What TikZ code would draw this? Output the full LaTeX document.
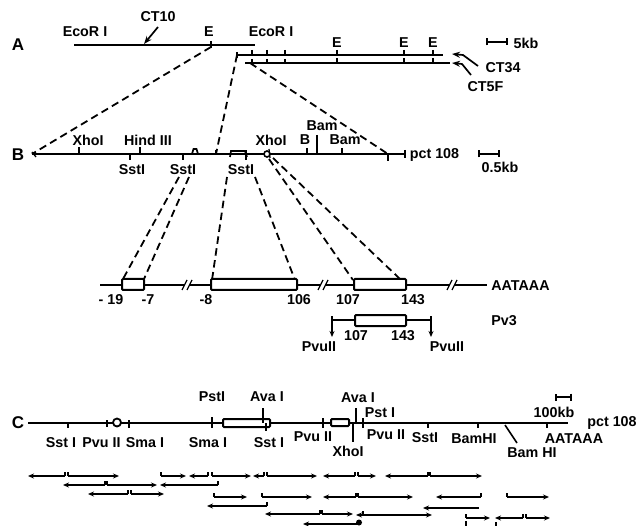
\documentclass[tikz,border=0pt]{standalone}
\usepackage{fontspec}
\setmainfont{Liberation Sans}
\usetikzlibrary{arrows.meta}
\tikzset{
  x=1pt,y=-1pt,
  lbl/.style={font=\bfseries\fontsize{14.3}{15}\selectfont,inner sep=0pt},
  bigl/.style={font=\bfseries\fontsize{17}{17}\selectfont,inner sep=0pt},
  ln/.style={line width=1.9pt},
  tk/.style={line width=1.3pt},
  dsh/.style={line width=1.8pt,dash pattern=on 7.5pt off 4.5pt},
  exon/.style={draw,line width=2pt,fill=white,rounded corners=1pt},
  scalebar/.style={line width=1.6pt,{Bar[width=7pt]}-{Bar[width=7pt]}},
  poi/.style={line width=1.7pt,-{Stealth[length=8pt,width=6pt]}},
  frag/.style={line width=1.5pt,-{Stealth[length=6pt,width=5pt]}},
  fragt/.style={line width=1.1pt}
}
\begin{document}
\begin{tikzpicture}
\useasboundingbox (0,0) rectangle (639,526);
\fill[white] (0,0) rectangle (639,526);
% Panel A
\node[bigl] (lA) at (18,45) {A};
\node[lbl] (a1) at (85,32) {EcoR I};
\node[lbl] (a2) at (158,17) {CT10};
\node[lbl] (a3) at (209,32) {E};
\node[lbl] (a4) at (271,32) {EcoR I};
\node[lbl] (a5) at (337,43) {E};
\node[lbl] (a6) at (404,43) {E};
\node[lbl] (a7) at (433,43) {E};
\draw[ln] (74,45) -- (255,45);
\draw[poi] (158,27) -- (144,44);
\draw[tk] (211,41)--(211,48);
\draw[ln] (237,55) -- (443,55);
\draw[ln] (245,63) -- (450,63);
\draw[tk] (237,52)--(237,58);
\foreach \x in {252,267,285} {\draw[tk] (\x,50)--(\x,55); \draw[tk] (\x,59)--(\x,63);}
\foreach \x in {337,404,433} {\draw[tk] (\x,50)--(\x,55); \draw[tk] (\x,58)--(\x,63);}
\draw[poi] (478,66) -- (463,55) -- (452,54);
\draw[poi] (471,75) -- (462,64) -- (452,63);
\node[lbl] (a8) at (503,68) {CT34};
\node[lbl] (a9) at (485.5,87) {CT5F};
\draw[scalebar] (486,42) -- (508,42);
\node[lbl] (a10) at (526,43) {5kb};
% Dashes A-B
\draw[dsh] (211,47) -- (32,154);
\draw[dsh] (237,55) -- (216,154);
\draw[dsh] (250,63) -- (388,154);
% Panel B
\node[bigl] (lB) at (18,155) {B};
\draw[ln] (32,154) -- (405,154);
\draw[tk] (405,150)--(405,158);
\draw[tk] (32,152)--(36,157);
\node[lbl] (b1) at (434.5,155) {pct 108};
\node[lbl] (b2) at (88,140) {XhoI};
\node[lbl] (b3) at (148,140) {Hind III};
\node[lbl] (b4) at (271,140) {XhoI};
\node[lbl] (b5) at (305,140) {B};
\node[lbl] (b6) at (322,126) {Bam};
\node[lbl] (b7) at (345,140) {Bam};
\foreach \x/\a/\b in {79/147/154,140/147/154,130/154/160,183/154/160,307/148/154,342/148/154,216/150/154,388/154/161} {\draw[tk] (\x,\a)--(\x,\b);}
\draw[line width=1.6pt] (317,135)--(317,154);
\node[lbl] (b8) at (132,170) {SstI};
\node[lbl] (b9) at (183,170) {SstI};
\node[lbl] (b10) at (241,170) {SstI};
\draw[tk] (246,160)--(246,150);
\draw[line width=1.7pt] (230,157)--(231,151)--(245,151)--(247,157);
\draw[line width=1.7pt] (192,154)--(193.5,149)--(196.5,149)--(198,154);
\draw[line width=1.6pt,fill=white] (267,154) circle (3);
\draw[tk] (269,149)--(270,158);
\draw[scalebar] (478,154) -- (500,154);
\node[lbl] (b11) at (500,167) {0.5kb};
% dashes B-lower
\draw[dsh] (179,177) -- (123,279);
\draw[dsh] (189,177) -- (144,279);
\draw[dsh] (227,177) -- (212,280);
\draw[dsh] (255,177) -- (295,280);
\draw[dsh] (269,159) -- (353,280);
\draw[dsh] (273,158) -- (400,279);
% gene
\draw[ln] (100,285) -- (184,285);
\draw[ln] (190,285) -- (321,285);
\draw[ln] (326,285) -- (450,285);
\draw[ln] (455,285) -- (487,285);
\draw[tk] (182,290)--(187,280) (187,290)--(192,280);
\draw[tk] (318,290)--(323,280) (323,290)--(328,280);
\draw[tk] (447,290)--(452,280) (452,290)--(457,280);
\draw[exon] (122,279) rectangle (144,290);
\draw[exon] (211,279) rectangle (297,290);
\draw[exon] (354,279) rectangle (406,290);
\node[lbl] (g1) at (111,300) {- 19};
\node[lbl] (g2) at (148,300) {-7};
\node[lbl] (g3) at (206,300) {-8};
\node[lbl] (g4) at (299,300) {106};
\node[lbl] (g5) at (348,300) {107};
\node[lbl] (g6) at (413,300) {143};
\node[lbl] (g7) at (520.5,286) {AATAAA};
% Pv3
\draw[ln] (332,320) -- (432,320);
\draw[frag] (332,316) -- (332,337);
\draw[frag] (431,316) -- (431,337);
\draw[exon] (355,315) rectangle (406,326);
\node[lbl] (p1) at (356,336) {107};
\node[lbl] (p2) at (403,336) {143};
\node[lbl] (p3) at (319,347) {PvuII};
\node[lbl] (p4) at (447,347) {PvuII};
\node[lbl] (p5) at (504,321) {Pv3};
% Panel C
\node[bigl] (lC) at (18,423) {C};
\draw[ln] (28,423) -- (568,423);
\draw[line width=1.8pt,fill=white] (117,422.5) circle (4);
\draw[exon] (223,419) rectangle (270,427);
\draw[exon] (331,419) rectangle (349,426);
\foreach \x/\a/\b in {68/423/428,107/420/427,129/420/428,212/417/428,266/423/431,323/418/428,363/418/428,428/423/428,478/423/428,547/423/428} {\draw[tk] (\x,\a)--(\x,\b);}
\draw[line width=1.6pt] (263,408)--(263,423);
\draw[line width=1.6pt] (356,408)--(356,423);
\draw[line width=1.6pt] (353,423)--(353,442);
\draw[line width=1.6pt] (505,425)--(517,443);
\draw[scalebar] (555,397) -- (572,397);
\node[lbl] (c1) at (212,397) {PstI};
\node[lbl] (c2) at (267,397) {Ava I};
\node[lbl] (c3) at (358,398) {Ava I};
\node[lbl] (c4) at (380,413) {Pst I};
\node[lbl] (c5) at (554,412) {100kb};
\node[lbl] (c6) at (612,423) {pct 108};
\node[lbl] (c7) at (61,443) {Sst I};
\node[lbl] (c8) at (101.5,443) {Pvu II};
\node[lbl] (c9) at (145,443) {Sma I};
\node[lbl] (c10) at (208,443) {Sma I};
\node[lbl] (c11) at (269,443) {Sst I};
\node[lbl] (c12) at (313,437) {Pvu II};
\node[lbl] (c13) at (348,451) {XhoI};
\node[lbl] (c14) at (386,435) {Pvu II};
\node[lbl] (c15) at (425,438) {SstI};
\node[lbl] (c16) at (474,439) {BamHI};
\node[lbl] (c17) at (532,453) {Bam HI};
\node[lbl] (c18) at (574,439) {AATAAA};
% fragment arrows: tick end, arrow end, height
\foreach \s/\e/\y in {
 65/28/476, 68/119/476, 161/186/476, 208/189/476, 212/251/476, 264/253/476, 267/317/476,
 355/323/476, 358/376/476, 428/385/476, 430/482/476,
 105/63/485, 107/157/485, 218/160/485,
 128/88/494, 131/164/494,
 214/247/497, 262/312/497, 356/323/497, 358/413/497, 481/436/497, 507/549/497,
 267/207/506,
 320/265/514, 322/353/514, 363/356/515, 363/432/515,
 466/490/518, 523/495/518, 526/550/518}
{ \pgfmathsetmacro{\yt}{\y-4}
  \draw[fragt] (\s,\yt) -- (\s,\y);
  \draw[frag] (\s,\y) -- (\e,\y); }
\draw[line width=1.9pt,-{Stealth[length=6pt,width=5pt]}] (479,508)--(423,508);
\draw[line width=2.4pt,-{Stealth[length=6pt,width=5pt]}] (359,524)--(303,524);
\fill (359,522.5) circle (3);
\draw[tk] (466,521)--(466,526);
\draw[tk] (496,522)--(496,526);
\end{tikzpicture}
\end{document}
